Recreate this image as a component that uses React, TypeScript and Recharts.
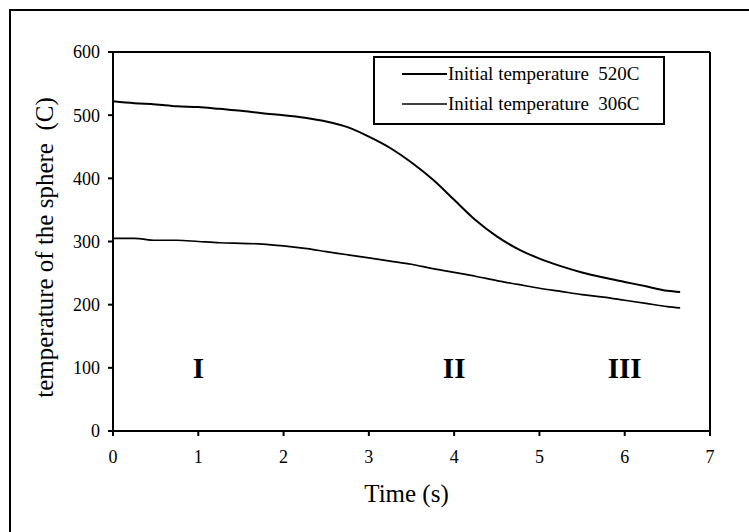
import {
  LineChart,
  Line,
  XAxis,
  YAxis,
  ReferenceLine,
  ReferenceDot,
} from "recharts";

// time (s)
const times = [
  0, 0.25, 0.5, 0.75, 1, 1.25, 1.5, 1.75, 2, 2.25, 2.5, 2.75, 3, 3.25, 3.5,
  3.75, 4, 4.25, 4.5, 4.75, 5, 5.25, 5.5, 5.75, 6, 6.25, 6.5, 6.65,
];

// initial temperature 520C
const initial520 = [
  522, 519, 517, 514, 513, 510, 507, 503, 500, 496, 490, 481, 466, 448, 425,
  398, 366, 334, 308, 288, 273, 261, 251, 243, 236, 229, 222, 220,
];

// initial temperature 306C
const initial306 = [
  305, 305, 302, 302, 300, 298, 297, 296, 293, 289, 284, 279, 274, 269, 264,
  257, 251, 245, 238, 232, 226, 221, 216, 212, 207, 202, 197, 195,
];

const xTicks = [0, 1, 2, 3, 4, 5, 6, 7];
const yTicks = [0, 100, 200, 300, 400, 500, 600];

const regionLabels = ["I", "II", "III"];
const regionTimes = [1, 4, 6];
const regionLevel = 100;

const seriesNames = ["Initial temperature  520C", "Initial temperature  306C"];

const data = times.map((t, i) => ({
  t,
  hot: initial520[i],
  warm: initial306[i],
}));

const FONT = "'Liberation Serif', 'Times New Roman', serif";

export default function App() {
  return (
    <div
      style={{
        position: "absolute",
        left: 0,
        top: 0,
        width: 749,
        height: 532,
        overflow: "hidden",
        background: "#fff",
        fontFamily: FONT,
      }}
    >
      {/* outer frame */}
      <div
        style={{
          position: "absolute",
          left: 9,
          top: 9,
          width: 760,
          height: 540,
          borderLeft: "2px solid #000",
          borderTop: "2px solid #000",
        }}
      />
      <LineChart
        width={749}
        height={532}
        data={data}
        margin={{ top: 52, right: 39, bottom: 0, left: 0 }}
        style={{ position: "absolute", left: 0, top: 0 }}
      >
        <XAxis
          dataKey="t"
          type="number"
          domain={[0, 7]}
          ticks={xTicks}
          height={101}
          stroke="#000"
          strokeWidth={2}
          tickSize={5}
          tickMargin={14}
          tick={{ fill: "#000", fontSize: 18, fontFamily: FONT }}
          label={{
            content: ({ viewBox }: any) => (
              <text
                x={viewBox.x + viewBox.width / 2 - 5}
                y={viewBox.y + 71}
                textAnchor="middle"
                fontSize={25}
                fontFamily={FONT}
                fill="#000"
              >
                Time (s)
              </text>
            ),
          }}
        />
        <YAxis
          type="number"
          domain={[0, 600]}
          ticks={yTicks}
          width={113}
          stroke="#000"
          strokeWidth={2}
          tickSize={5}
          tickMargin={8}
          tick={{ fill: "#000", fontSize: 18, fontFamily: FONT }}
          label={{
            content: ({ viewBox }: any) => {
              const cx = viewBox.x + 44;
              const cy = viewBox.y + viewBox.height / 2 + 6;
              return (
                <text
                  x={cx}
                  y={cy}
                  transform={`rotate(-90, ${cx}, ${cy})`}
                  textAnchor="middle"
                  dominantBaseline="central"
                  fontSize={25}
                  fontFamily={FONT}
                  fill="#000"
                  style={{ whiteSpace: "pre" }}
                >
                  {"temperature of the sphere  (C)"}
                </text>
              );
            },
          }}
        />
        <ReferenceLine y={600} stroke="#000" strokeWidth={2} />
        <ReferenceLine x={7} stroke="#000" strokeWidth={2} />
        <Line
          type="monotone"
          dataKey="hot"
          stroke="#000"
          strokeWidth={2}
          dot={false}
          isAnimationActive={false}
        />
        <Line
          type="monotone"
          dataKey="warm"
          stroke="#000"
          strokeWidth={1.7}
          dot={false}
          isAnimationActive={false}
        />
        {regionLabels.map((name, i) => (
          <ReferenceDot
            key={name}
            x={regionTimes[i]}
            y={regionLevel}
            r={0}
            fill="none"
            stroke="none"
            label={{
              content: ({ viewBox }: any) => (
                <text
                  x={viewBox.x + (viewBox.width || 0) / 2}
                  y={viewBox.y + (viewBox.height || 0) / 2}
                  textAnchor="middle"
                  dominantBaseline="central"
                  fontSize={29}
                  fontWeight="bold"
                  fontFamily={FONT}
                  fill="#000"
                >
                  {name}
                </text>
              ),
            }}
          />
        ))}
      </LineChart>
      {/* legend */}
      <div
        style={{
          position: "absolute",
          left: 373,
          top: 56,
          width: 288,
          height: 65,
          border: "2px solid #000",
          background: "#fff",
        }}
      >
        {seriesNames.map((name, i) => (
          <div
            key={name}
            style={{
              position: "absolute",
              left: 27,
              top: 4 + i * 30,
              height: 24,
              display: "flex",
              alignItems: "center",
              whiteSpace: "pre",
              fontSize: 19,
              color: "#000",
            }}
          >
            <svg width={45} height={10} style={{ marginRight: 1 }}>
              <line
                x1={0}
                y1={5}
                x2={45}
                y2={5}
                stroke="#000"
                strokeWidth={i === 0 ? 2 : 1.7}
              />
            </svg>
            {name}
          </div>
        ))}
      </div>
    </div>
  );
}
